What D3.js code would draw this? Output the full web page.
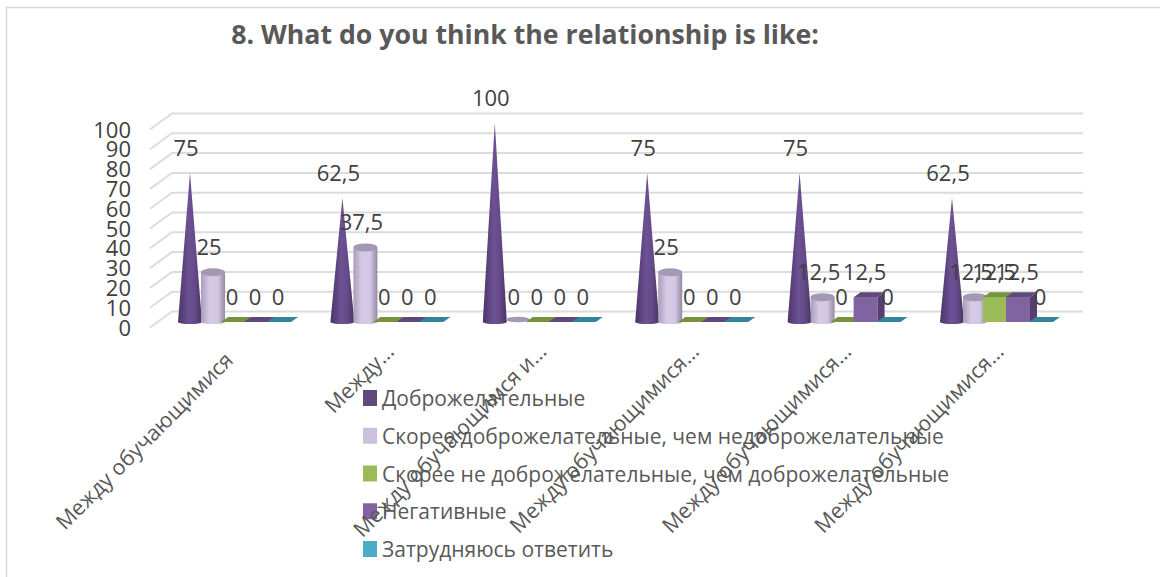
<!DOCTYPE html>
<html>
<head>
<meta charset="utf-8">
<script src="https://cdn.jsdelivr.net/npm/d3@7"></script>
<style>
  html, body { margin: 0; padding: 0; background: #fff; overflow: hidden; }
  text { font-family: "Open Sans", sans-serif; fill: #595959; }
  .value { fill: #404040; }
</style>
</head>
<body>
<div id="chart"></div>
<script>
// Chart data
const categories = [
    'Между обучающимися',
    'Между…',
    'Между обучающимся и…',
    'Между обучающимися…',
    'Между обучающимися… ',
    'Между обучающимися…  '
];
const seriesNames = [
    'Доброжелательные',
    'Скорее доброжелательные, чем недоброжелательные',
    'Скорее не доброжелательные, чем доброжелательные',
    'Негативные',
    'Затрудняюсь ответить'
];
const friendly = [75, 62.5, 100, 75, 75, 62.5];
const ratherFriendly = [25, 37.5, 0, 25, 12.5, 12.5];
const ratherUnfriendly = [0, 0, 0, 0, 0, 12.5];
const negative = [0, 0, 0, 0, 12.5, 12.5];
const hardToSay = [0, 0, 0, 0, 0, 0];
const seriesValues = [friendly, ratherFriendly, ratherUnfriendly, negative, hardToSay];
const yTicks = [0, 10, 20, 30, 40, 50, 60, 70, 80, 90, 100];
const legendColors = ['#604a7b', '#ccc1da', '#9bbb59', '#8064a2', '#4bacc6'];
const topColors = ['#604a7b', '#a598b5', '#76923c', '#60497a', '#31859c'];
const sideColors = ['#604a7b', '#a598b5', '#76923c', '#553f70', '#2b7389'];

const WIDTH = 1160;
const HEIGHT = 577;
const FONT = 22;

const svg = d3.select('#chart')
    .append('svg')
    .attr('width', WIDTH)
    .attr('height', HEIGHT)
    .style('display', 'block');

// Gradients for the round shapes
const defs = svg.append('defs');
function addGradient(id, stops) {
    const g = defs.append('linearGradient').attr('id', id);
    stops.forEach(s => g.append('stop').attr('offset', s[0]).attr('stop-color', s[1]));
}
addGradient('coneFill', [[0, '#4a3566'], [0.45, '#6c5194'], [0.7, '#654b8a'], [1, '#47335f']]);
addGradient('cylFill', [[0, '#a99db9'], [0.35, '#d5cbe7'], [0.7, '#d2c8e3'], [1, '#9488a5']]);

// Frame of the chart area
svg.append('path')
    .attr('d', `M${WIDTH},7.5H6.5V${HEIGHT}`)
    .attr('fill', 'none')
    .attr('stroke', '#d9d9d9')
    .attr('stroke-width', 1.5);

// Scales: front edge of the floor, back wall and the marks sit at different depths
const yFront = d3.scaleLinear().domain([0, 100]).range([327.5, 129.5]);
const yBack = d3.scaleLinear().domain([0, 100]).range([311.5, 113.5]);
const yMark = d3.scaleLinear().domain([0, 100]).range([322, 123]);
const xCat = d3.scalePoint().domain(categories).range([190, 952]);
const xSeries = d3.scalePoint().domain(seriesNames).range([0, 92]);

// Gridlines, with the slanted part on the side wall
svg.append('g').selectAll('path')
    .data(yTicks)
    .enter()
    .append('path')
    .attr('d', d => `M150,${yFront(d)}L172,${yBack(d)}H1083`)
    .attr('fill', 'none')
    .attr('stroke', '#dcdcdc')
    .attr('stroke-width', 2);

// Legend goes under the axis labels
const legend = svg.append('g');
const legendY = d3.scalePoint().domain(seriesNames).range([398, 549]);
legend.selectAll('rect')
    .data(seriesNames)
    .enter()
    .append('rect')
    .attr('x', 363)
    .attr('y', d => legendY(d) - 8)
    .attr('width', 14)
    .attr('height', 16)
    .attr('fill', (d, i) => legendColors[i]);
legend.selectAll('text')
    .data(seriesNames)
    .enter()
    .append('text')
    .attr('x', 382)
    .attr('y', d => legendY(d))
    .attr('dominant-baseline', 'central')
    .style('font-size', '21px')
    .text(d => d);

// Marks
const marks = svg.append('g');
seriesNames.forEach((name, s) => {
    categories.forEach((cat, c) => {
        const v = seriesValues[s][c];
        const cx = xCat(cat) + xSeries(name);
        const base = yMark(0);
        const top = yMark(v);
        if (s === 0) {
            // cone
            marks.append('path')
                .attr('d', `M${cx - 12},${base}L${cx},${top}L${cx + 12},${base}A12,2 0 0 1 ${cx - 12},${base}Z`)
                .attr('fill', 'url(#coneFill)');
        } else if (s === 1) {
            // cylinder, flat disc when the value is zero
            if (v > 0) {
                marks.append('path')
                    .attr('d', `M${cx - 12},${top}V${base}A12,2 0 0 0 ${cx + 12},${base}V${top}Z`)
                    .attr('fill', 'url(#cylFill)');
            }
            marks.append('ellipse')
                .attr('cx', cx)
                .attr('cy', v > 0 ? top : base - 2.5)
                .attr('rx', 12)
                .attr('ry', v > 0 ? 4 : 2.8)
                .attr('fill', topColors[s]);
        } else {
            // box, a flat parallelogram when the value is zero
            const x0 = cx - 15;
            const x1 = cx + 9;
            const dx = 7;
            const dy = 5;
            if (v > 0) {
                marks.append('rect')
                    .attr('x', x0)
                    .attr('y', top)
                    .attr('width', x1 - x0)
                    .attr('height', base - top)
                    .attr('fill', legendColors[s]);
                marks.append('path')
                    .attr('d', `M${x1},${top}L${x1 + dx},${top - dy}V${base - dy}L${x1},${base}Z`)
                    .attr('fill', sideColors[s]);
            }
            marks.append('path')
                .attr('d', `M${x0},${top}L${x0 + dx},${top - dy}H${x1 + dx}L${x1},${top}Z`)
                .attr('fill', topColors[s]);
        }
    });
});

// Data labels
const labels = svg.append('g');
seriesNames.forEach((name, s) => {
    categories.forEach((cat, c) => {
        const v = seriesValues[s][c];
        labels.append('text')
            .attr('class', 'value')
            .attr('x', xCat(cat) + xSeries(name) - 4)
            .attr('y', yMark(v) - 26)
            .attr('text-anchor', 'middle')
            .attr('dominant-baseline', 'central')
            .style('font-size', FONT + 'px')
            .text(String(v).replace('.', ','));
    });
});

// Y axis labels
svg.append('g').selectAll('text')
    .data(yTicks)
    .enter()
    .append('text')
    .attr('class', 'value')
    .attr('x', 131)
    .attr('y', d => yFront(d) - 1)
    .attr('text-anchor', 'end')
    .attr('dominant-baseline', 'central')
    .style('font-size', FONT + 'px')
    .text(d => d);

// Category labels; the first one is not cut off and ends a bit lower
svg.append('g').selectAll('text')
    .data(categories)
    .enter()
    .append('text')
    .attr('transform', d => `translate(${xCat(d) + 47},347) rotate(-45)`)
    .attr('dx', (d, i) => (i === 0 ? -12 : 0))
    .attr('text-anchor', 'end')
    .attr('dominant-baseline', 'central')
    .style('font-size', '21.5px')
    .text(d => d.trim());

// Title
svg.append('text')
    .attr('x', 525)
    .attr('y', 33)
    .attr('text-anchor', 'middle')
    .attr('dominant-baseline', 'central')
    .style('font-size', '26.7px')
    .style('font-weight', 'bold')
    .text('8. What do you think the relationship is like:');
</script>
</body>
</html>
